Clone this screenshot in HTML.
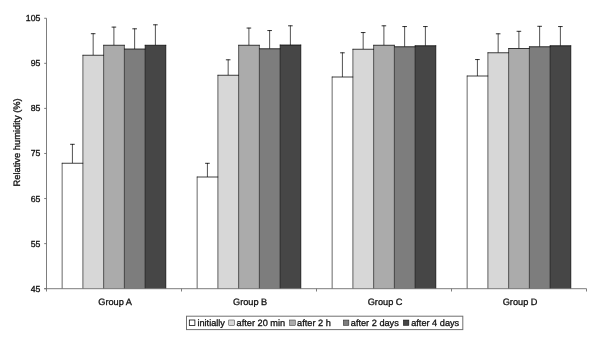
<!DOCTYPE html>
<html><head><meta charset="utf-8"><title>Relative humidity</title>
<style>
html,body{margin:0;padding:0;background:#fff;}
body{width:600px;height:343px;position:relative;overflow:hidden;}
.t{font-family:"Liberation Sans",Arial,sans-serif;fill:#111;stroke:#111;stroke-width:0.3px;text-rendering:geometricPrecision;}
</style></head><body>
<svg width="600" height="343" viewBox="0 0 600 343" style="display:block;position:absolute;left:0;top:0">
<rect width="600" height="343" fill="#fff"/>
<line x1="72.42" y1="144.00" x2="72.42" y2="163.25" stroke="#000" stroke-width="0.68"/>
<line x1="70.12" y1="144.30" x2="74.72" y2="144.30" stroke="#000" stroke-width="0.8"/>
<line x1="93.16" y1="33.40" x2="93.16" y2="55.25" stroke="#000" stroke-width="0.68"/>
<line x1="90.86" y1="33.70" x2="95.46" y2="33.70" stroke="#000" stroke-width="0.8"/>
<line x1="113.90" y1="26.80" x2="113.90" y2="45.25" stroke="#000" stroke-width="0.68"/>
<line x1="111.60" y1="27.10" x2="116.20" y2="27.10" stroke="#000" stroke-width="0.8"/>
<line x1="134.64" y1="28.50" x2="134.64" y2="49.00" stroke="#000" stroke-width="0.68"/>
<line x1="132.34" y1="28.80" x2="136.94" y2="28.80" stroke="#000" stroke-width="0.8"/>
<line x1="155.38" y1="24.50" x2="155.38" y2="45.25" stroke="#000" stroke-width="0.68"/>
<line x1="153.08" y1="24.80" x2="157.68" y2="24.80" stroke="#000" stroke-width="0.8"/>
<rect x="62.15" y="163.25" width="20.79" height="125.45" fill="#ffffff"/>
<rect x="82.89" y="55.25" width="20.79" height="233.45" fill="#d7d7d7"/>
<rect x="103.63" y="45.25" width="20.79" height="243.45" fill="#ababab"/>
<rect x="124.37" y="49.00" width="20.79" height="239.70" fill="#7d7d7d"/>
<rect x="145.11" y="45.25" width="20.79" height="243.45" fill="#464646"/>
<line x1="62.15" y1="162.88" x2="62.15" y2="288.70" stroke="#000" stroke-width="0.6"/>
<line x1="82.89" y1="54.88" x2="82.89" y2="288.70" stroke="#000" stroke-width="0.6"/>
<line x1="103.63" y1="44.88" x2="103.63" y2="288.70" stroke="#000" stroke-width="0.6"/>
<line x1="124.37" y1="44.88" x2="124.37" y2="288.70" stroke="#000" stroke-width="0.6"/>
<line x1="145.11" y1="44.88" x2="145.11" y2="288.70" stroke="#000" stroke-width="0.6"/>
<line x1="165.85" y1="44.88" x2="165.85" y2="288.70" stroke="#000" stroke-width="0.6"/>
<line x1="61.85" y1="163.25" x2="83.19" y2="163.25" stroke="#000" stroke-width="0.75"/>
<line x1="82.59" y1="55.25" x2="103.93" y2="55.25" stroke="#000" stroke-width="0.75"/>
<line x1="103.33" y1="45.25" x2="124.67" y2="45.25" stroke="#000" stroke-width="0.75"/>
<line x1="124.07" y1="49.00" x2="145.41" y2="49.00" stroke="#000" stroke-width="0.75"/>
<line x1="144.81" y1="45.25" x2="166.15" y2="45.25" stroke="#000" stroke-width="0.75"/>
<line x1="207.42" y1="163.00" x2="207.42" y2="177.00" stroke="#000" stroke-width="0.68"/>
<line x1="205.12" y1="163.30" x2="209.72" y2="163.30" stroke="#000" stroke-width="0.8"/>
<line x1="228.16" y1="59.50" x2="228.16" y2="75.25" stroke="#000" stroke-width="0.68"/>
<line x1="225.86" y1="59.80" x2="230.46" y2="59.80" stroke="#000" stroke-width="0.8"/>
<line x1="248.90" y1="27.75" x2="248.90" y2="45.25" stroke="#000" stroke-width="0.68"/>
<line x1="246.60" y1="28.05" x2="251.20" y2="28.05" stroke="#000" stroke-width="0.8"/>
<line x1="269.64" y1="30.25" x2="269.64" y2="48.75" stroke="#000" stroke-width="0.68"/>
<line x1="267.34" y1="30.55" x2="271.94" y2="30.55" stroke="#000" stroke-width="0.8"/>
<line x1="290.38" y1="25.50" x2="290.38" y2="45.00" stroke="#000" stroke-width="0.68"/>
<line x1="288.08" y1="25.80" x2="292.68" y2="25.80" stroke="#000" stroke-width="0.8"/>
<rect x="197.15" y="177.00" width="20.79" height="111.70" fill="#ffffff"/>
<rect x="217.89" y="75.25" width="20.79" height="213.45" fill="#d7d7d7"/>
<rect x="238.63" y="45.25" width="20.79" height="243.45" fill="#ababab"/>
<rect x="259.37" y="48.75" width="20.79" height="239.95" fill="#7d7d7d"/>
<rect x="280.11" y="45.00" width="20.79" height="243.70" fill="#464646"/>
<line x1="197.15" y1="176.62" x2="197.15" y2="288.70" stroke="#000" stroke-width="0.6"/>
<line x1="217.89" y1="74.88" x2="217.89" y2="288.70" stroke="#000" stroke-width="0.6"/>
<line x1="238.63" y1="44.88" x2="238.63" y2="288.70" stroke="#000" stroke-width="0.6"/>
<line x1="259.37" y1="44.88" x2="259.37" y2="288.70" stroke="#000" stroke-width="0.6"/>
<line x1="280.11" y1="44.62" x2="280.11" y2="288.70" stroke="#000" stroke-width="0.6"/>
<line x1="300.85" y1="44.62" x2="300.85" y2="288.70" stroke="#000" stroke-width="0.6"/>
<line x1="196.85" y1="177.00" x2="218.19" y2="177.00" stroke="#000" stroke-width="0.75"/>
<line x1="217.59" y1="75.25" x2="238.93" y2="75.25" stroke="#000" stroke-width="0.75"/>
<line x1="238.33" y1="45.25" x2="259.67" y2="45.25" stroke="#000" stroke-width="0.75"/>
<line x1="259.07" y1="48.75" x2="280.41" y2="48.75" stroke="#000" stroke-width="0.75"/>
<line x1="279.81" y1="45.00" x2="301.15" y2="45.00" stroke="#000" stroke-width="0.75"/>
<line x1="342.42" y1="52.50" x2="342.42" y2="77.00" stroke="#000" stroke-width="0.68"/>
<line x1="340.12" y1="52.80" x2="344.72" y2="52.80" stroke="#000" stroke-width="0.8"/>
<line x1="363.16" y1="32.25" x2="363.16" y2="49.25" stroke="#000" stroke-width="0.68"/>
<line x1="360.86" y1="32.55" x2="365.46" y2="32.55" stroke="#000" stroke-width="0.8"/>
<line x1="383.90" y1="25.50" x2="383.90" y2="45.25" stroke="#000" stroke-width="0.68"/>
<line x1="381.60" y1="25.80" x2="386.20" y2="25.80" stroke="#000" stroke-width="0.8"/>
<line x1="404.64" y1="26.25" x2="404.64" y2="46.75" stroke="#000" stroke-width="0.68"/>
<line x1="402.34" y1="26.55" x2="406.94" y2="26.55" stroke="#000" stroke-width="0.8"/>
<line x1="425.38" y1="26.25" x2="425.38" y2="45.75" stroke="#000" stroke-width="0.68"/>
<line x1="423.08" y1="26.55" x2="427.68" y2="26.55" stroke="#000" stroke-width="0.8"/>
<rect x="332.15" y="77.00" width="20.79" height="211.70" fill="#ffffff"/>
<rect x="352.89" y="49.25" width="20.79" height="239.45" fill="#d7d7d7"/>
<rect x="373.63" y="45.25" width="20.79" height="243.45" fill="#ababab"/>
<rect x="394.37" y="46.75" width="20.79" height="241.95" fill="#7d7d7d"/>
<rect x="415.11" y="45.75" width="20.79" height="242.95" fill="#464646"/>
<line x1="332.15" y1="76.62" x2="332.15" y2="288.70" stroke="#000" stroke-width="0.6"/>
<line x1="352.89" y1="48.88" x2="352.89" y2="288.70" stroke="#000" stroke-width="0.6"/>
<line x1="373.63" y1="44.88" x2="373.63" y2="288.70" stroke="#000" stroke-width="0.6"/>
<line x1="394.37" y1="44.88" x2="394.37" y2="288.70" stroke="#000" stroke-width="0.6"/>
<line x1="415.11" y1="45.38" x2="415.11" y2="288.70" stroke="#000" stroke-width="0.6"/>
<line x1="435.85" y1="45.38" x2="435.85" y2="288.70" stroke="#000" stroke-width="0.6"/>
<line x1="331.85" y1="77.00" x2="353.19" y2="77.00" stroke="#000" stroke-width="0.75"/>
<line x1="352.59" y1="49.25" x2="373.93" y2="49.25" stroke="#000" stroke-width="0.75"/>
<line x1="373.33" y1="45.25" x2="394.67" y2="45.25" stroke="#000" stroke-width="0.75"/>
<line x1="394.07" y1="46.75" x2="415.41" y2="46.75" stroke="#000" stroke-width="0.75"/>
<line x1="414.81" y1="45.75" x2="436.15" y2="45.75" stroke="#000" stroke-width="0.75"/>
<line x1="477.42" y1="59.25" x2="477.42" y2="76.00" stroke="#000" stroke-width="0.68"/>
<line x1="475.12" y1="59.55" x2="479.72" y2="59.55" stroke="#000" stroke-width="0.8"/>
<line x1="498.16" y1="33.50" x2="498.16" y2="52.75" stroke="#000" stroke-width="0.68"/>
<line x1="495.86" y1="33.80" x2="500.46" y2="33.80" stroke="#000" stroke-width="0.8"/>
<line x1="518.90" y1="31.00" x2="518.90" y2="48.50" stroke="#000" stroke-width="0.68"/>
<line x1="516.60" y1="31.30" x2="521.20" y2="31.30" stroke="#000" stroke-width="0.8"/>
<line x1="539.64" y1="26.00" x2="539.64" y2="46.75" stroke="#000" stroke-width="0.68"/>
<line x1="537.34" y1="26.30" x2="541.94" y2="26.30" stroke="#000" stroke-width="0.8"/>
<line x1="560.38" y1="26.25" x2="560.38" y2="45.75" stroke="#000" stroke-width="0.68"/>
<line x1="558.08" y1="26.55" x2="562.68" y2="26.55" stroke="#000" stroke-width="0.8"/>
<rect x="467.15" y="76.00" width="20.79" height="212.70" fill="#ffffff"/>
<rect x="487.89" y="52.75" width="20.79" height="235.95" fill="#d7d7d7"/>
<rect x="508.63" y="48.50" width="20.79" height="240.20" fill="#ababab"/>
<rect x="529.37" y="46.75" width="20.79" height="241.95" fill="#7d7d7d"/>
<rect x="550.11" y="45.75" width="20.79" height="242.95" fill="#464646"/>
<line x1="467.15" y1="75.62" x2="467.15" y2="288.70" stroke="#000" stroke-width="0.6"/>
<line x1="487.89" y1="52.38" x2="487.89" y2="288.70" stroke="#000" stroke-width="0.6"/>
<line x1="508.63" y1="48.12" x2="508.63" y2="288.70" stroke="#000" stroke-width="0.6"/>
<line x1="529.37" y1="46.38" x2="529.37" y2="288.70" stroke="#000" stroke-width="0.6"/>
<line x1="550.11" y1="45.38" x2="550.11" y2="288.70" stroke="#000" stroke-width="0.6"/>
<line x1="570.85" y1="45.38" x2="570.85" y2="288.70" stroke="#000" stroke-width="0.6"/>
<line x1="466.85" y1="76.00" x2="488.19" y2="76.00" stroke="#000" stroke-width="0.75"/>
<line x1="487.59" y1="52.75" x2="508.93" y2="52.75" stroke="#000" stroke-width="0.75"/>
<line x1="508.33" y1="48.50" x2="529.67" y2="48.50" stroke="#000" stroke-width="0.75"/>
<line x1="529.07" y1="46.75" x2="550.41" y2="46.75" stroke="#000" stroke-width="0.75"/>
<line x1="549.81" y1="45.75" x2="571.15" y2="45.75" stroke="#000" stroke-width="0.75"/>
<line x1="46.5" y1="18.25" x2="46.5" y2="291.5" stroke="#6e6e6e" stroke-width="0.9"/>
<line x1="44.2" y1="288.7" x2="586.5" y2="288.7" stroke="#6e6e6e" stroke-width="0.9"/>
<line x1="44.2" y1="18.25" x2="46.5" y2="18.25" stroke="#6e6e6e" stroke-width="0.9"/>
<text x="40.3" y="21.25" text-anchor="end" font-size="8.7" class="t">105</text>
<line x1="44.2" y1="63.32" x2="46.5" y2="63.32" stroke="#6e6e6e" stroke-width="0.9"/>
<text x="40.3" y="66.32" text-anchor="end" font-size="8.7" class="t">95</text>
<line x1="44.2" y1="108.40" x2="46.5" y2="108.40" stroke="#6e6e6e" stroke-width="0.9"/>
<text x="40.3" y="111.40" text-anchor="end" font-size="8.7" class="t">85</text>
<line x1="44.2" y1="153.47" x2="46.5" y2="153.47" stroke="#6e6e6e" stroke-width="0.9"/>
<text x="40.3" y="156.47" text-anchor="end" font-size="8.7" class="t">75</text>
<line x1="44.2" y1="198.55" x2="46.5" y2="198.55" stroke="#6e6e6e" stroke-width="0.9"/>
<text x="40.3" y="201.55" text-anchor="end" font-size="8.7" class="t">65</text>
<line x1="44.2" y1="243.62" x2="46.5" y2="243.62" stroke="#6e6e6e" stroke-width="0.9"/>
<text x="40.3" y="246.62" text-anchor="end" font-size="8.7" class="t">55</text>
<line x1="44.2" y1="288.70" x2="46.5" y2="288.70" stroke="#6e6e6e" stroke-width="0.9"/>
<text x="40.3" y="291.70" text-anchor="end" font-size="8.7" class="t">45</text>
<line x1="181.50" y1="288.7" x2="181.50" y2="291.5" stroke="#6e6e6e" stroke-width="0.9"/>
<line x1="316.50" y1="288.7" x2="316.50" y2="291.5" stroke="#6e6e6e" stroke-width="0.9"/>
<line x1="451.50" y1="288.7" x2="451.50" y2="291.5" stroke="#6e6e6e" stroke-width="0.9"/>
<line x1="586.50" y1="288.7" x2="586.50" y2="291.5" stroke="#6e6e6e" stroke-width="0.9"/>
<text x="115.10" y="305.4" text-anchor="middle" font-size="9.2" class="t">Group A</text>
<text x="250.10" y="305.4" text-anchor="middle" font-size="9.2" class="t">Group B</text>
<text x="385.10" y="305.4" text-anchor="middle" font-size="9.2" class="t">Group C</text>
<text x="520.10" y="305.4" text-anchor="middle" font-size="9.2" class="t">Group D</text>
<text transform="translate(19.9,142.4) rotate(-90)" text-anchor="middle" font-size="9.35" class="t">Relative humidity (%)</text>
<rect x="186.5" y="316.2" width="276.3" height="13.4" fill="#fff" stroke="#707070" stroke-width="1"/>
<rect x="189.3" y="320" width="5.6" height="5.5" fill="#ffffff" stroke="#000" stroke-width="0.75"/>
<text x="197.4" y="326.0" font-size="9.2" class="t">initially</text>
<rect x="228.8" y="320" width="5.6" height="5.5" fill="#d7d7d7" stroke="#000" stroke-width="0.4"/>
<text x="236.6" y="326.0" font-size="9.2" class="t">after 20 min</text>
<rect x="289.6" y="320" width="5.6" height="5.5" fill="#ababab" stroke="#000" stroke-width="0.4"/>
<text x="297.1" y="326.0" font-size="9.2" class="t">after 2 h</text>
<rect x="343.3" y="320" width="5.6" height="5.5" fill="#7d7d7d" stroke="#000" stroke-width="0.4"/>
<text x="350.8" y="326.0" font-size="9.2" class="t">after 2 days</text>
<rect x="403.3" y="320" width="5.6" height="5.5" fill="#464646" stroke="#000" stroke-width="0.45"/>
<text x="411.2" y="326.0" font-size="9.2" class="t">after 4 days</text>
</svg>
</body></html>
